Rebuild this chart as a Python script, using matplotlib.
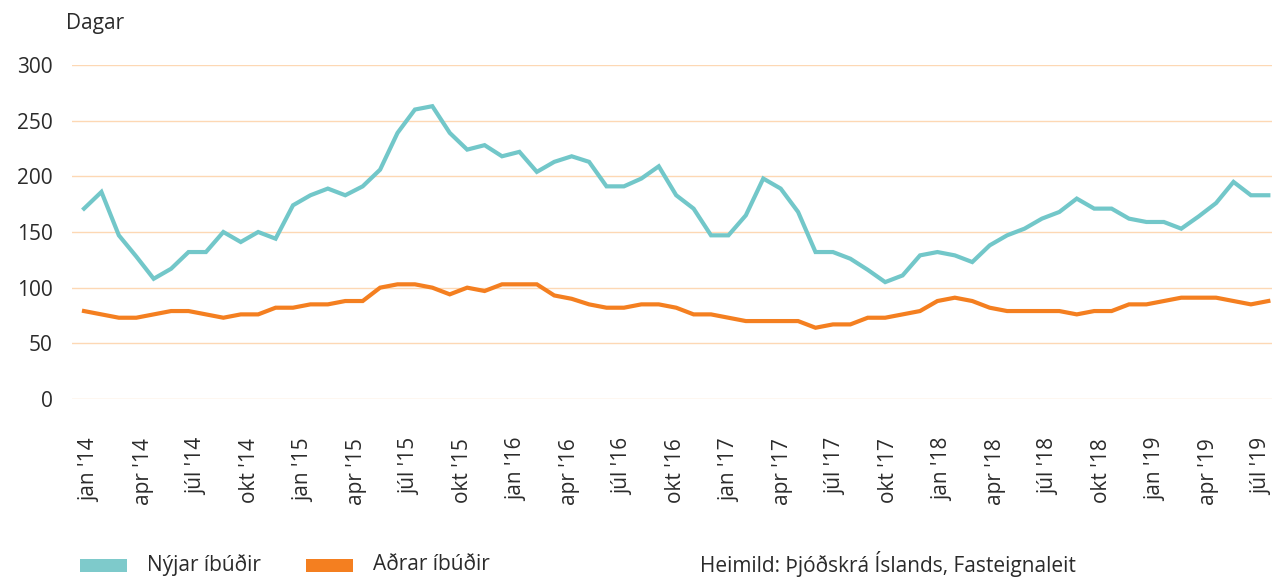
import numpy as np
import matplotlib
matplotlib.use("Agg")
import matplotlib.pyplot as plt
from matplotlib.patches import Rectangle

# Meðalsölutími íbúða (dagar), mánaðarleg gögn
nyjar = [171, 186, 147, 128, 108, 117, 132, 132, 150, 141, 150, 144,
         174, 183, 189, 183, 191, 206, 239, 260, 263, 239, 224, 228,
         218, 222, 204, 213, 218, 213, 191, 191, 198, 209, 183, 171,
         147, 147, 165, 198, 189, 168, 132, 132, 126, 116, 105, 111,
         129, 132, 129, 123, 138, 147, 153, 162, 168, 180, 171, 171,
         162, 159, 159, 153, 164, 176, 195, 183, 183]
adrar = [79, 76, 73, 73, 76, 79, 79, 76, 73, 76, 76, 82,
         82, 85, 85, 88, 88, 100, 103, 103, 100, 94, 100, 97,
         103, 103, 103, 93, 90, 85, 82, 82, 85, 85, 82, 76,
         76, 73, 70, 70, 70, 70, 64, 67, 67, 73, 73, 76,
         79, 88, 91, 88, 82, 79, 79, 79, 79, 76, 79, 79,
         85, 85, 88, 91, 91, 91, 88, 85, 88]
tick_labels = ["jan '14", "apr '14", "júl '14", "okt '14",
               "jan '15", "apr '15", "júl '15", "okt '15",
               "jan '16", "apr '16", "júl '16", "okt '16",
               "jan '17", "apr '17", "júl '17", "okt '17",
               "jan '18", "apr '18", "júl '18", "okt '18",
               "jan '19", "apr '19", "júl '19"]
y_ticks = [0, 50, 100, 150, 200, 250, 300]

TEAL = "#72C7C9"
ORANGE = "#F47F20"
GRID = "#FDD8B4"
TXT = "#2B2B2B"
FS = 15

plt.rcParams['font.family'] = ['Open Sans', 'DejaVu Sans']

W, H = 1272, 577
fig = plt.figure(figsize=(W / 100, H / 100), dpi=100)
left, right, top, bottom = 72, 1272, 65, 399
ax = fig.add_axes([left / W, 1 - bottom / H, (right - left) / W, (bottom - top) / H])

x = np.arange(len(nyjar))
ax.plot(x, nyjar, color=TEAL, lw=3.0, solid_joinstyle='miter', zorder=3)
ax.plot(x, adrar, color=ORANGE, lw=3.0, solid_joinstyle='miter', zorder=3)

n = len(nyjar)
ax.set_xlim(-0.69, n - 1 + 0.21)
ax.set_ylim(0, 300)

ax.set_yticks(y_ticks)
ax.set_yticklabels([str(v) for v in y_ticks])
ax.grid(axis='y', color=GRID, lw=1)
ax.set_axisbelow(True)

# merkimiðar á x-ás (hver þriðji mánuður)
tick_pos = np.linspace(0.35, n - 1 - 0.38, len(tick_labels))
ax.set_xticks(tick_pos)
ax.set_xticklabels(tick_labels, rotation=90)

for s in ax.spines.values():
    s.set_visible(False)
ax.tick_params(axis='both', length=0, labelsize=FS, colors=TXT)
ax.tick_params(axis='y', pad=14)
ax.tick_params(axis='x', pad=28)

fig.text(66 / W, 1 - 24 / H, "Dagar", fontsize=FS, color=TXT, va='center', ha='left')

# skýringar neðst
fig.add_artist(Rectangle((80 / W, 1 - 572 / H), 47 / W, 13 / H,
                         transform=fig.transFigure, color="#7ECACB", lw=0))
fig.text(147 / W, 1 - 565 / H, "Nýjar íbúðir", fontsize=FS, color=TXT, va='center')
fig.add_artist(Rectangle((306 / W, 1 - 572 / H), 47 / W, 13 / H,
                         transform=fig.transFigure, color=ORANGE, lw=0))
fig.text(373 / W, 1 - 565 / H, "Aðrar íbúðir", fontsize=FS, color=TXT, va='center')
fig.text(700 / W, 1 - 564 / H, "Heimild: Þjóðskrá Íslands, Fasteignaleit",
         fontsize=FS, color=TXT, va='center')

fig.savefig("out.png", dpi=100)
